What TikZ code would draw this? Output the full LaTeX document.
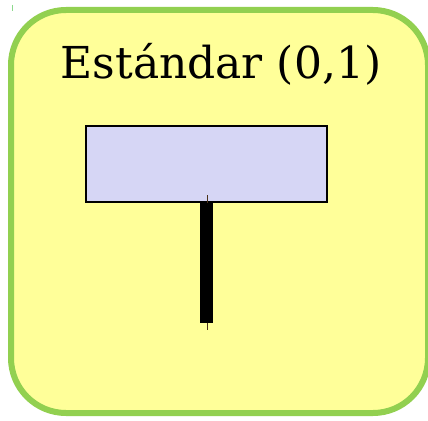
\documentclass[tikz,border=0pt]{standalone}
\usepackage{fontspec}
\setmainfont{DejaVu Serif}
\definecolor{boxyellow}{HTML}{FFFF99}
\definecolor{boxgreen}{HTML}{92D050}
\definecolor{lav}{HTML}{D6D6F5}
\tikzset{
  outerbox/.style={draw=boxgreen, line width=6pt, fill=boxyellow, rounded corners=55pt},
  entity/.style={draw=black, line width=1.8pt, fill=lav},
  bar/.style={line width=13pt, draw=black},
  thin/.style={line width=0.8pt, draw=black!60!brown}
}
\begin{document}
\begin{tikzpicture}[x=1pt,y=-1pt]
\useasboundingbox (0,0) rectangle (428,420);
\fill[white] (0,0) rectangle (428,420);
\draw[outerbox] (11,10) rectangle (428,413);
\draw[line width=0.8pt, draw=gray!50!green!60] (12,5) -- (12,11);
\node[anchor=base, font=\fontsize{44}{48}\selectfont, inner sep=0pt] (title) at (221,78) {Estándar (0,1)};
\node[entity, minimum width=241pt, minimum height=76pt, inner sep=0pt] (ent) at (206.5,164) {};
\coordinate (bartop) at (206.5,202);
\coordinate (barbot) at (206.5,323);
\coordinate (ltop) at (207,195);
\coordinate (lbot) at (207,330);
\draw[thin] (ltop) -- (lbot);
\draw[bar] (ent.south -| bartop) -- (barbot);
\end{tikzpicture}
\end{document}
